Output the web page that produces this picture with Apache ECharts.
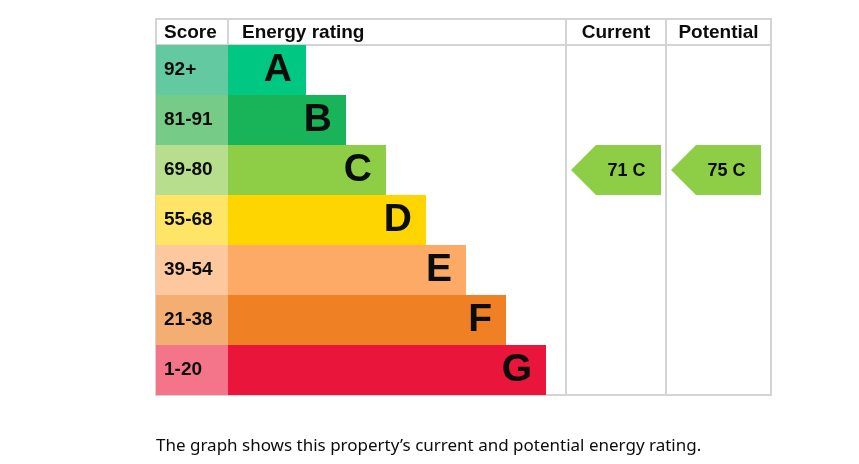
<!DOCTYPE html>
<html>
<head>
<meta charset="utf-8">
<script src="https://cdn.jsdelivr.net/npm/echarts@6/dist/echarts.min.js"></script>
<style>
  html, body { margin: 0; padding: 0; background: #fff; }
  #epc { width: 859px; height: 464px; }
</style>
</head>
<body>
<div id="epc"></div>
<script>
// rating bands, top to bottom
var bands = ['A', 'B', 'C', 'D', 'E', 'F', 'G'];
var scoreRanges = ['92+', '81-91', '69-80', '55-68', '39-54', '21-38', '1-20'];
var bandMins = [92, 81, 69, 55, 39, 21, 1];
var barLengths = [78, 118, 158, 198, 238, 278, 318];
var bandColors = ['#00c781', '#19b459', '#8dce46', '#ffd500', '#fcaa65', '#ef8023', '#e9153b'];
var scoreColors = ['#63c9a0', '#76cc86', '#b6de8c', '#ffe566', '#fec89f', '#f4ae72', '#f4758a'];
var currentScore = 71;
var potentialScore = 75;

var LINE = '#d4d4d4';
var FONT = 'Liberation Sans';

function bandOf(score) {
    for (var i = 0; i < bandMins.length; i++) {
        if (score >= bandMins[i]) return i;
    }
    return bands.length - 1;
}

var myChart = echarts.init(document.getElementById('epc'));

function arrowItem(params, api) {
    var c = api.coord([api.value(0), api.value(1)]);
    var h = api.size([0, 1])[1];
    var x0 = params.coordSys.x + 5;
    var w = 90, tip = 25;
    var top = c[1] - h / 2, bottom = c[1] + h / 2;
    var score = api.value(2);
    var band = bands[api.value(1)];
    return {
        type: 'group',
        children: [{
            type: 'polygon',
            shape: { points: [[x0, c[1]], [x0 + tip, top], [x0 + w, top], [x0 + w, bottom], [x0 + tip, bottom]] },
            style: { fill: bandColors[api.value(1)] }
        }, {
            type: 'text',
            x: x0 + tip + (w - tip) / 2 - 2,
            y: c[1] + 1,
            style: {
                text: score + ' ' + band,
                fill: '#0b0c0c',
                fontFamily: FONT, fontWeight: 'bold', fontSize: 18,
                align: 'center',
                verticalAlign: 'middle'
            }
        }]
    };
}

function catY(gridIndex, name, pad) {
    return {
        type: 'category', gridIndex: gridIndex, data: bands, inverse: true,
        axisLine: { show: false }, axisTick: { show: false }, axisLabel: { show: false },
        name: name, nameLocation: 'start', nameGap: 12,
        nameTextStyle: { align: 'left', verticalAlign: 'middle', padding: [0, 0, 0, pad],
            fontFamily: FONT, fontWeight: 'bold', fontSize: 19, color: '#0b0c0c' }
    };
}

function colX(gridIndex, label) {
    return {
        type: 'category', gridIndex: gridIndex, data: [label], position: 'top',
        axisLine: { show: false }, axisTick: { show: false },
        axisLabel: { margin: 12, verticalAlign: 'middle', fontFamily: FONT,
            fontWeight: 'bold', fontSize: 19, color: '#0b0c0c' }
    };
}

var option = {
    animation: false,
    backgroundColor: '#fff',
    title: {
        text: 'The graph shows this property\u2019s current and potential energy rating.',
        left: 151, top: 433,
        textStyle: { fontFamily: 'Noto Sans', fontWeight: 'normal', fontSize: 17, color: '#0b0c0c' }
    },
    grid: [
        { left: 156, top: 45, width: 72, height: 350 },
        { left: 228, top: 45, width: 338, height: 350 },
        { left: 566, top: 45, width: 100, height: 350 },
        { left: 666, top: 45, width: 105, height: 350 }
    ],
    xAxis: [
        { type: 'value', gridIndex: 0, min: 0, max: 1, show: false },
        { type: 'value', gridIndex: 1, min: 0, max: 338, show: false },
        colX(2, 'Current'),
        colX(3, 'Potential')
    ],
    yAxis: [
        catY(0, 'Score', 8),
        catY(1, 'Energy rating', 14),
        { type: 'category', gridIndex: 2, data: bands, inverse: true, show: false },
        { type: 'category', gridIndex: 3, data: bands, inverse: true, show: false }
    ],
    graphic: [
        { type: 'rect', shape: { x: 156, y: 19, width: 615, height: 376 }, style: { fill: 'none', stroke: LINE, lineWidth: 2 }, z: 10 },
        { type: 'line', shape: { x1: 156, y1: 45, x2: 771, y2: 45 }, style: { stroke: LINE, lineWidth: 2 }, z: 10 },
        { type: 'line', shape: { x1: 228, y1: 19, x2: 228, y2: 45 }, style: { stroke: LINE, lineWidth: 2 }, z: 10 },
        { type: 'line', shape: { x1: 566, y1: 19, x2: 566, y2: 395 }, style: { stroke: LINE, lineWidth: 2 }, z: 10 },
        { type: 'line', shape: { x1: 666, y1: 19, x2: 666, y2: 395 }, style: { stroke: LINE, lineWidth: 2 }, z: 10 }
    ],
    series: [
        {
            type: 'bar', xAxisIndex: 0, yAxisIndex: 0, barWidth: '100%', z: 20,
            data: scoreRanges.map(function (r, i) {
                return { value: 1, name: r, itemStyle: { color: scoreColors[i] } };
            }),
            label: {
                show: true, position: 'insideLeft', distance: 8,
                formatter: function (p) { return scoreRanges[p.dataIndex]; },
                fontFamily: FONT, fontWeight: 'bold', fontSize: 19, color: '#0b0c0c'
            }
        },
        {
            type: 'bar', xAxisIndex: 1, yAxisIndex: 1, barWidth: '100%', z: 20,
            data: barLengths.map(function (v, i) {
                return { value: v, itemStyle: { color: bandColors[i] } };
            }),
            label: {
                show: true, position: 'insideRight', distance: 14,
                formatter: function (p) { return bands[p.dataIndex]; },
                fontFamily: FONT, fontWeight: 'bold', fontSize: 39, color: '#0b0c0c'
            }
        },
        {
            type: 'custom', xAxisIndex: 2, yAxisIndex: 2, renderItem: arrowItem,
            data: [[0, bandOf(currentScore), currentScore]]
        },
        {
            type: 'custom', xAxisIndex: 3, yAxisIndex: 3, renderItem: arrowItem,
            data: [[0, bandOf(potentialScore), potentialScore]]
        }
    ]
};

myChart.setOption(option);
</script>
</body>
</html>
